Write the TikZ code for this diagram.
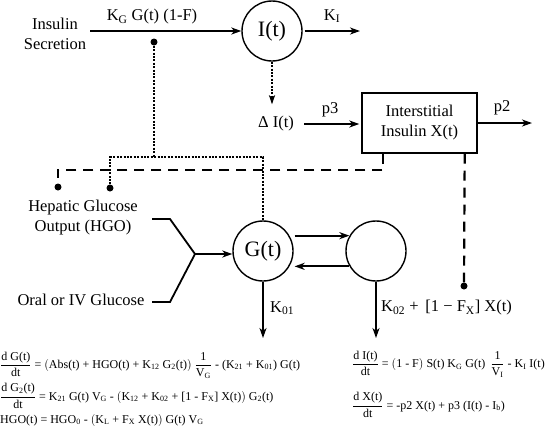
\documentclass[tikz,border=0pt]{standalone}
\usepackage{fontspec}
\setmainfont{Liberation Serif}
\usetikzlibrary{arrows.meta}
\newcommand{\sub}[1]{\textsubscript{#1}}
\newcommand{\myfrac}[2]{$\displaystyle\frac{\mbox{#1}}{\mbox{#2}}$}
\begin{document}
\begin{tikzpicture}[x=1pt,y=-1pt,
  lbl/.style={font=\fontsize{16.5}{20}\selectfont, align=center, inner sep=0pt},
  big/.style={font=\fontsize{22}{24}\selectfont},
  arr/.style={line width=1.8pt, -{Stealth[length=10pt,width=7pt,inset=3pt]}},
  ln/.style={line width=1.8pt},
  circ/.style={draw, circle, line width=1.4pt, minimum size=60pt, inner sep=0pt},
  dotline/.style={line width=2.6pt, dash pattern=on 2pt off 1.4pt},
  dashline/.style={line width=2.2pt, dash pattern=on 10pt off 7pt},
  dotmark/.style={circle, fill, inner sep=0pt, minimum size=7pt},
  eq/.style={font=\fontsize{12}{14}\selectfont, anchor=west, inner sep=0pt}]
\useasboundingbox (0,0) rectangle (552,445);

% nodes
\node[lbl] (ins) at (55,34) {Insulin\\Secretion};
\node[circ, big] (I) at (272,31) {I(t)};
\node[lbl] (kg) at (152,17) {K\sub{G} G(t) (1-F)};
\node[lbl] (ki) at (332,16) {K\sub{I}};
\node[lbl] (dI) at (276,124) {Δ I(t)};
\node[draw, line width=1.4pt, minimum width=115pt, minimum height=60pt, lbl, inner sep=0pt] (box) at (419.5,123) {Interstitial\\Insulin X(t)};
\node[lbl] (p3) at (330,110) {p3};
\node[lbl] (p2) at (502,108) {p2};
\node[lbl] (hgo) at (83,217.5) {Hepatic Glucose\\Output (HGO)};
\node[lbl] (oral) at (81,300) {Oral or IV Glucose};
\node[circ, big] (G) at (263,251) {G(t)};
\node[circ] (C2) at (376,251) {};
\node[lbl, anchor=west] (k01) at (270,308) {K\sub{01}};
\node[lbl, anchor=west] (k02) at (381,308) {K\sub{02} +\, [1 − F\sub{X}] X(t)};

% marks and coordinates
\node[dotmark] (d1) at (154,42) {};
\node[dotmark] (d2) at (110,188) {};
\node[dotmark] (d3) at (58,187) {};
\node[dotmark] (d4) at (464,286) {};
\coordinate (a0) at (90,31);
\coordinate (kiend) at (360,31);
\coordinate (p2end) at (532,123);
\coordinate (j1) at (154,157);
\coordinate (h1) at (152,219);
\coordinate (h2) at (170,219);
\coordinate (jn) at (195,254);
\coordinate (o1) at (152,302);
\coordinate (o2) at (170,302);
\coordinate (k01end) at (263,338);
\coordinate (k02end) at (376,338);

% connectors
\draw[arr] (a0) -- (I.west |- a0);
\draw[arr, shorten <=2pt] (I.east) -- (kiend);
\draw[dotline, -{Stealth[length=9pt,width=6pt,inset=2pt]}, shorten >=12pt] (I.south) -- (I.south |- dI.north);
\draw[arr, shorten <=10pt, shorten >=2pt] (dI.east) -- (dI.east -| box.west);
\draw[arr] (box.east) -- (p2end);
\draw[dotline] (d1) -- (j1);
\draw[dotline] (d2) |- (j1) -| (G.north);
\draw[dashline] ([xshift=22pt]box.south west) -- ++(0,16) -| (d3);
\draw[dashline] ([xshift=-13pt]box.south east) -- (d4);
\draw[ln] (h1) -- (h2) -- (jn) -- (o2) -- (o1);
\draw[arr] (jn) -- (G.west |- jn);
\draw[arr, shorten <=5pt] (G.30) -- (C2.150);
\draw[arr, shorten >=5pt] (C2.210) -- (G.-30);
\draw[arr] (G.south) -- (k01end);
\draw[arr] (C2.south) -- (k02end);

% equations
\node[eq] (e1) at (0,365) {\myfrac{d G(t)}{dt} = $\big($Abs(t) + HGO(t) + K\sub{12} G\sub{2}(t)$\big)$ \myfrac{1}{V\sub{G}} - (K\sub{21} + K\sub{01}) G(t)};
\node[eq] (e2) at (0,396) {\myfrac{d G\sub{2}(t)}{dt} = K\sub{21} G(t) V\sub{G} - $\big($K\sub{12} + K\sub{02} + [1 - F\sub{X}] X(t)$\big)$ G\sub{2}(t)};
\node[eq] (e3) at (0,420) {HGO(t) = HGO\sub{0} - $\big($K\sub{L} + F\sub{X} X(t)$\big)$ G(t) V\sub{G}};
\node[eq] (e4) at (352,364) {\myfrac{d I(t)}{dt} = $\big($1 - F$\big)$ S(t) K\sub{G} G(t)\, \myfrac{1}{V\sub{I}} - K\sub{I} I(t)};
\node[eq] (e5) at (352,405) {\myfrac{d X(t)}{dt} = -p2 X(t) + p3 (I(t) - I\sub{b})};
\end{tikzpicture}
\end{document}
